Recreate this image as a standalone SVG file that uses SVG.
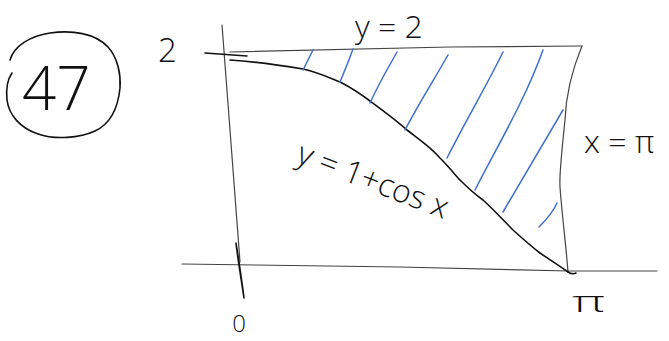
<svg xmlns="http://www.w3.org/2000/svg" width="669" height="341" viewBox="0 0 669 341">
<style>
.ink{fill:none;stroke:#111;stroke-width:1.6;stroke-linecap:round;stroke-linejoin:round}
.thin{fill:none;stroke:#444;stroke-width:1.2;stroke-linecap:round}
.hatch{fill:none;stroke:#3f6fcf;stroke-width:1.5;stroke-linecap:round}
.t{font-family:"Open Sans","Liberation Sans","DejaVu Sans",sans-serif;font-weight:300;fill:#111}
</style>
<rect width="669" height="341" fill="#fff"/>
<g id="label47">
<path class="ink" d="M10,60 C14,46 30,36 50,33 C72,30 95,33 108,47 C118,58 121,75 120,88 C118,108 110,124 95,131 C80,138 55,140 38,134 C20,128 9,115 7,100 C6,90 7,80 12,73"/>
<text class="t" x="22" y="110" font-size="60">47</text>
</g>
<g id="axes">
<path class="thin" d="M182,264 L400,267 L570,271 L657,271"/>
<path class="thin" d="M222,25 L230,130 L240,262"/>
<path class="ink" d="M236,243 C239,262 242,282 244,298 C241,278 238,260 236,243Z" fill="#111"/>
<path class="ink" d="M205,53 L247,56"/>
</g>
<g id="region">
<path class="thin" d="M230,52 L450,47 L582,46"/>
<path class="thin" d="M582,46 C572,70 566,95 565,120 C562,150 559,175 560,187 C562,215 566,245 568,272"/>
<path class="ink" d="M230,60 C260,62 285,66 303,69 C320,73 330,78 340,82 C352,88 362,95 370,101 C385,112 396,120 407,130 C420,140 432,148 440,158 C450,168 456,176 460,180 C470,190 476,195 483,200 C495,211 505,222 513,230 C523,239 532,247 540,253 C550,260 560,266 568,272 C571,274 574,274 576,273"/>
</g>
<g id="hatching">
<path class="hatch" d="M303,70 L313,50"/>
<path class="hatch" d="M340,82 C345,70 349,60 353,49"/>
<path class="hatch" d="M370,103 C378,85 388,68 397,52"/>
<path class="hatch" d="M405,130 C418,105 435,78 448,55"/>
<path class="hatch" d="M447,158 C465,122 487,85 503,52"/>
<path class="hatch" d="M475,190 C498,145 525,100 543,50"/>
<path class="hatch" d="M503,212 C525,175 545,140 563,110"/>
<path class="hatch" d="M539,227 C548,218 554,210 557,203"/>
</g>
<g id="labels">
<text class="t" x="158" y="62" font-size="33">2</text>
<text class="t" x="355" y="38" font-size="32">y = 2</text>
<text class="t" x="584" y="153" font-size="32">x = π</text>
<text class="t" x="295" y="162" font-size="32" transform="rotate(21 295 162)">y = 1+cos x</text>
<text class="t" x="239" y="332" font-size="24" text-anchor="middle">0</text>
<text class="t" x="0" y="0" font-size="30" transform="translate(572 312) scale(1.8 1)">π</text>
</g>
</svg>
